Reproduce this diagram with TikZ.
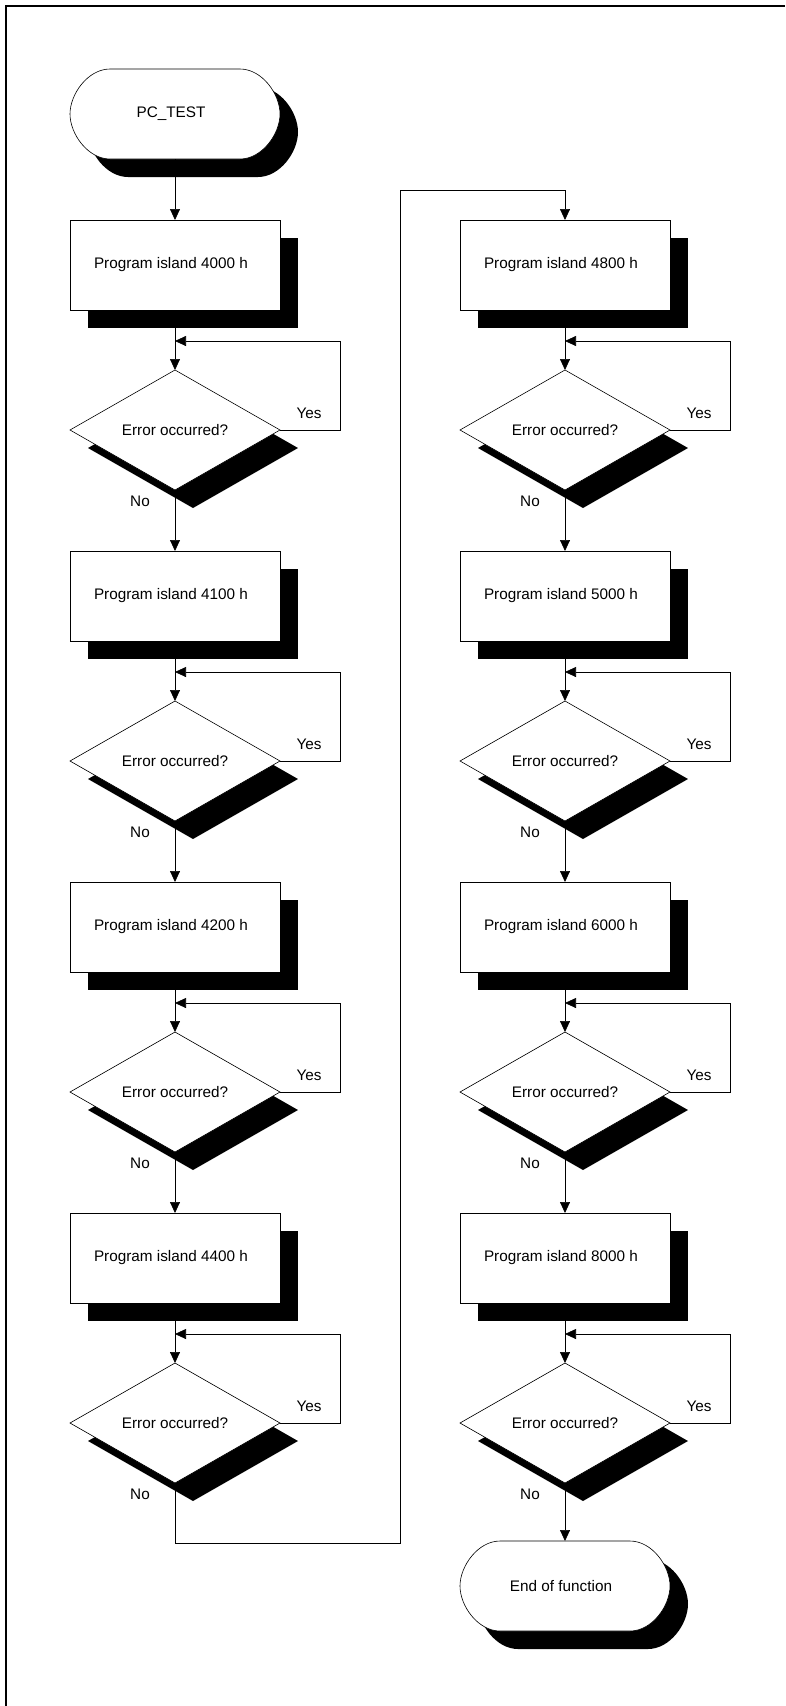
\documentclass[tikz,border=0pt]{standalone}
\usepackage{fontspec}
\setmainfont{Liberation Sans}
\usetikzlibrary{shapes.geometric, shadows, arrows.meta, calc}
\begin{document}
\begin{tikzpicture}[x=1pt, y=-1pt,
  font=\fontsize{15.3}{18}\selectfont,
  shad/.style={general shadow={fill=black, shadow xshift=18pt, shadow yshift=-18pt}},
  procbox/.style={rectangle, draw, line width=0.6pt, fill=white, minimum width=210pt, minimum height=90pt, inner sep=0pt, outer sep=0pt, shad},
  decision/.style={diamond, draw, line width=0.6pt, fill=white, minimum width=210pt, minimum height=120pt, aspect=1.75, inner sep=0pt, outer sep=0pt, shad},
  termnode/.style={rectangle, minimum width=210pt, minimum height=90pt, inner sep=0pt, outer sep=0pt},
  conn/.style={line width=0.7pt, -{Triangle[length=11pt, width=10pt]}},
  lbl/.style={inner sep=0pt},
  frameline/.style={line width=2pt},
  termshape/.pic={
    \fill[black, shift={(18,18)}] (-65,-45) -- (65,-45) .. controls (87,-45) and (105,-20) .. (105,0) .. controls (105,20) and (87,45) .. (65,45) -- (-65,45) .. controls (-87,45) and (-105,20) .. (-105,0) .. controls (-105,-20) and (-87,-45) .. (-65,-45) -- cycle;
    \draw[fill=white, line width=0.6pt] (-65,-45) -- (65,-45) .. controls (87,-45) and (105,-20) .. (105,0) .. controls (105,20) and (87,45) .. (65,45) -- (-65,45) .. controls (-87,45) and (-105,20) .. (-105,0) .. controls (-105,-20) and (-87,-45) .. (-65,-45) -- cycle;
  },
]
\useasboundingbox (0,0) rectangle (785,1706);
% frame
\draw[frameline] (6,1706) -- (6,6) -- (785,6);

% start terminal
\pic at (175,114) {termshape};
\node[termnode] (start) at (175,114) {\kern-8pt PC\_TEST};

% left column
\foreach \k/\t in {0/4000,1/4100,2/4200,3/4400} {
  \node[procbox] (bL\k) at (175, 265+331*\k) {\kern-8pt Program island \t{} h};
  \node[decision] (dL\k) at (175, 430+331*\k) {Error occurred?};
  \coordinate (jL\k) at (175, 341+331*\k);
}
% right column
\foreach \k/\t in {0/4800,1/5000,2/6000,3/8000} {
  \node[procbox] (bR\k) at (565, 265+331*\k) {\kern-8pt Program island \t{} h};
  \node[decision] (dR\k) at (565, 430+331*\k) {Error occurred?};
  \coordinate (jR\k) at (565, 341+331*\k);
}

% end terminal
\pic at (565,1586) {termshape};
\node[termnode] (endt) at (565,1586) {\kern-8pt End of function};

% connectors
\draw[conn] (start.south) -- (bL0.north);
\foreach \c in {L,R} {
  \foreach \k in {0,1,2,3} {
    \draw[conn] (b\c\k.south) -- (d\c\k.north);
    \draw[conn] (d\c\k.east) -- ++(60,0) |- (j\c\k);
    \node[lbl] (yes\c\k) at ([xshift=29pt, yshift=17pt]d\c\k.east) {Yes};
    \node[lbl] (no\c\k) at ([xshift=-35pt, yshift=-11pt]d\c\k.south) {No};
  }
  \foreach \k/\n in {0/1,1/2,2/3} {
    \draw[conn] (d\c\k.south) -- (b\c\n.north);
  }
}
\coordinate (cb) at (400,1543);
\coordinate (ct) at (400,190);
\draw[conn] (dL3.south) |- (cb) -- (ct) -| (bR0.north);
\draw[conn] (dR3.south) -- (endt.north);
\end{tikzpicture}
\end{document}
